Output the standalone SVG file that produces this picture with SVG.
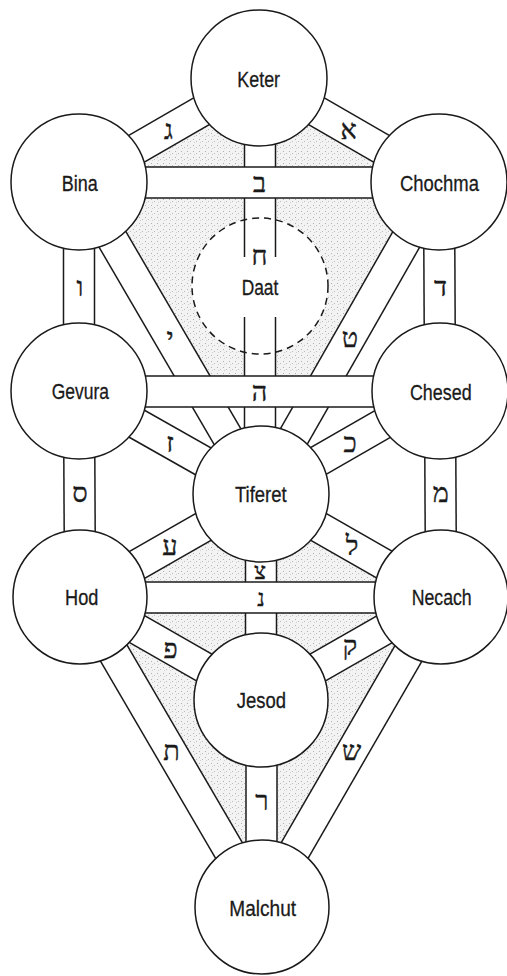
<svg xmlns="http://www.w3.org/2000/svg" width="507" height="976" viewBox="0 0 507 976">
<defs>
<pattern id="stip" width="6" height="6" patternUnits="userSpaceOnUse">
<rect width="6" height="6" fill="#f3f3f3"/>
<rect x="1" y="1" width="1" height="1" fill="#b0b0b0"/>
<rect x="4" y="3" width="1" height="1" fill="#bdbdbd"/>
<rect x="2" y="4" width="1" height="1" fill="#cfcfcf"/>
</pattern>
<style>
.shade{fill:url(#stip);stroke:none}
.pb{stroke:#1a1a1a;stroke-width:32.5;stroke-linecap:butt;fill:none}
.pw{stroke:#ffffff;stroke-width:29.5;stroke-linecap:butt;fill:none}
.edge{stroke:#1a1a1a;stroke-width:1.5;fill:none}
.node{fill:#ffffff;stroke:#1a1a1a;stroke-width:1.5}
.daat{fill:none;stroke:#1a1a1a;stroke-width:1.5;stroke-dasharray:7 5}
.lbl{font-family:"Liberation Sans Narrow","Liberation Sans",Arial,sans-serif;font-size:22px;fill:#1a1a1a;stroke:#1a1a1a;stroke-width:0.3;text-anchor:middle}
.heb{font-family:"Liberation Serif","DejaVu Sans",serif;font-size:27px;fill:#1a1a1a;stroke:#1a1a1a;stroke-width:0.4;text-anchor:middle}
.hs{font-size:23px}
</style>
</defs>
<rect width="507" height="976" fill="#ffffff"/>
<g id="shading">
<polygon class="shade" points="259,78 79,182 439,182"/>
<polygon class="shade" points="79,182 439,182 319.8,391 200.9,391"/>
<polygon class="shade" points="261,494 81,597 441,597"/>
<polygon class="shade" points="81,597 441,597 261,700"/>
<polygon class="shade" points="81,597 261,700 262,907"/>
<polygon class="shade" points="441,597 261,700 262,907"/>
<circle cx="260" cy="286" r="68" fill="#ffffff"/>
</g>
<g id="connectors">
<g id="paths-outline">
<line class="pb" x1="259" y1="78" x2="79" y2="182"/>
<line class="pb" x1="259" y1="78" x2="439" y2="182"/>
<line class="pb" x1="79" y1="182" x2="79" y2="391"/>
<line class="pb" x1="439" y1="182" x2="440" y2="391"/>
<line class="pb" x1="79" y1="182" x2="261" y2="494"/>
<line class="pb" x1="439" y1="182" x2="261" y2="494"/>
<line class="pb" x1="79" y1="391" x2="261" y2="494"/>
<line class="pb" x1="440" y1="391" x2="261" y2="494"/>
<line class="pb" x1="79" y1="391" x2="80" y2="597"/>
<line class="pb" x1="440" y1="391" x2="441" y2="597"/>
<line class="pb" x1="81" y1="597" x2="261" y2="494"/>
<line class="pb" x1="441" y1="597" x2="261" y2="494"/>
<line class="pb" x1="261" y1="494" x2="261" y2="700"/>
<line class="pb" x1="81" y1="597" x2="261" y2="700"/>
<line class="pb" x1="441" y1="597" x2="261" y2="700"/>
<line class="pb" x1="81" y1="597" x2="262" y2="907"/>
<line class="pb" x1="441" y1="597" x2="262" y2="907"/>
<line class="pb" x1="261.5" y1="700" x2="261.5" y2="907"/>
</g>
<g id="paths-fill">
<line class="pw" x1="259" y1="78" x2="79" y2="182"/>
<line class="pw" x1="259" y1="78" x2="439" y2="182"/>
<line class="pw" x1="79" y1="182" x2="79" y2="391"/>
<line class="pw" x1="439" y1="182" x2="440" y2="391"/>
<line class="pw" x1="79" y1="182" x2="261" y2="494"/>
<line class="pw" x1="439" y1="182" x2="261" y2="494"/>
<line class="pw" x1="79" y1="391" x2="261" y2="494"/>
<line class="pw" x1="440" y1="391" x2="261" y2="494"/>
<line class="pw" x1="79" y1="391" x2="80" y2="597"/>
<line class="pw" x1="440" y1="391" x2="441" y2="597"/>
<line class="pw" x1="81" y1="597" x2="261" y2="494"/>
<line class="pw" x1="441" y1="597" x2="261" y2="494"/>
<line class="pw" x1="261" y1="494" x2="261" y2="700"/>
<line class="pw" x1="81" y1="597" x2="261" y2="700"/>
<line class="pw" x1="441" y1="597" x2="261" y2="700"/>
<line class="pw" x1="81" y1="597" x2="262" y2="907"/>
<line class="pw" x1="441" y1="597" x2="262" y2="907"/>
<line class="pw" x1="261.5" y1="700" x2="261.5" y2="907"/>
</g>
<g id="keter-tiferet">
<rect x="244.5" y="100" width="31" height="360" fill="#ffffff"/>
<line class="edge" x1="244.5" y1="130" x2="244.5" y2="175"/>
<line class="edge" x1="275.5" y1="130" x2="275.5" y2="175"/>
<line class="edge" x1="244.5" y1="190" x2="244.5" y2="257"/>
<line class="edge" x1="275.5" y1="190" x2="275.5" y2="257"/>
<line class="edge" x1="244.5" y1="317" x2="244.5" y2="385"/>
<line class="edge" x1="275.5" y1="317" x2="275.5" y2="385"/>
<line class="edge" x1="244.5" y1="395" x2="244.5" y2="450"/>
<line class="edge" x1="275.5" y1="395" x2="275.5" y2="450"/>
</g>
<g id="bars">
<line class="pb" x1="79" y1="182.5" x2="439" y2="182.5"/>
<line class="pb" x1="79" y1="391.5" x2="440" y2="391.5"/>
<line class="pb" x1="81" y1="597.5" x2="441" y2="597.5"/>
<line class="pw" x1="79" y1="182.5" x2="439" y2="182.5"/>
<line class="pw" x1="79" y1="391.5" x2="440" y2="391.5"/>
<line class="pw" x1="81" y1="597.5" x2="441" y2="597.5"/>
</g>
</g>
<g id="keter"><circle class="node" cx="259" cy="78" r="68"/><text class="lbl" x="258.7" y="87" textLength="42.7" lengthAdjust="spacingAndGlyphs">Keter</text></g>
<g id="bina"><circle class="node" cx="79" cy="182" r="68"/><text class="lbl" x="79.7" y="191" textLength="36" lengthAdjust="spacingAndGlyphs">Bina</text></g>
<g id="chochma"><circle class="node" cx="439" cy="182" r="68"/><text class="lbl" x="439.5" y="190.7" textLength="79" lengthAdjust="spacingAndGlyphs">Chochma</text></g>
<g id="daat"><circle class="daat" cx="260" cy="286" r="68"/><text class="lbl" x="260" y="295" textLength="36.7" lengthAdjust="spacingAndGlyphs">Daat</text></g>
<g id="gevura"><circle class="node" cx="79" cy="391" r="68"/><text class="lbl" x="80.3" y="399.3" textLength="57.3" lengthAdjust="spacingAndGlyphs">Gevura</text></g>
<g id="chesed"><circle class="node" cx="440" cy="391" r="68"/><text class="lbl" x="440.8" y="399.5" textLength="61.7" lengthAdjust="spacingAndGlyphs">Chesed</text></g>
<g id="tiferet"><circle class="node" cx="261" cy="494" r="68"/><text class="lbl" x="260.8" y="502" textLength="51.7" lengthAdjust="spacingAndGlyphs">Tiferet</text></g>
<g id="hod"><circle class="node" cx="80" cy="597" r="67"/><text class="lbl" x="81.7" y="605" textLength="33.3" lengthAdjust="spacingAndGlyphs">Hod</text></g>
<g id="necach"><circle class="node" cx="441" cy="597" r="67"/><text class="lbl" x="441.7" y="605" textLength="60" lengthAdjust="spacingAndGlyphs">Necach</text></g>
<g id="jesod"><circle class="node" cx="261" cy="700" r="67"/><text class="lbl" x="261.3" y="708" textLength="49.3" lengthAdjust="spacingAndGlyphs">Jesod</text></g>
<g id="malchut"><circle class="node" cx="262" cy="907" r="67"/><text class="lbl" x="262.7" y="916" textLength="66.7" lengthAdjust="spacingAndGlyphs">Malchut</text></g>
<g id="letters">
<text class="heb" x="168.5" y="139">ג</text>
<text class="heb" x="348.5" y="138.5">א</text>
<text class="heb" x="259.5" y="192">ב</text>
<text class="heb" x="259.5" y="264.5">ח</text>
<text class="heb" x="80" y="295.5">ו</text>
<text class="heb" x="440.5" y="295.5">ד</text>
<text class="heb" x="170" y="347">י</text>
<text class="heb" x="350" y="347">ט</text>
<text class="heb" x="259.5" y="400.5">ה</text>
<text class="heb" x="170" y="452">ז</text>
<text class="heb" x="350" y="452">כ</text>
<text class="heb" x="80" y="502">ס</text>
<text class="heb" x="440.8" y="502">מ</text>
<text class="heb" x="170" y="554.5">ע</text>
<text class="heb" x="352" y="554.5">ל</text>
<text class="heb hs" x="260" y="578.5">צ</text>
<text class="heb hs" x="261" y="605.5">נ</text>
<text class="heb" x="170.5" y="657.5">פ</text>
<text class="heb" x="350" y="654.5">ק</text>
<text class="heb" x="171.5" y="759.5">ת</text>
<text class="heb" x="351.5" y="759.5">ש</text>
<text class="heb" x="262" y="809.5">ר</text>
</g>
</svg>
